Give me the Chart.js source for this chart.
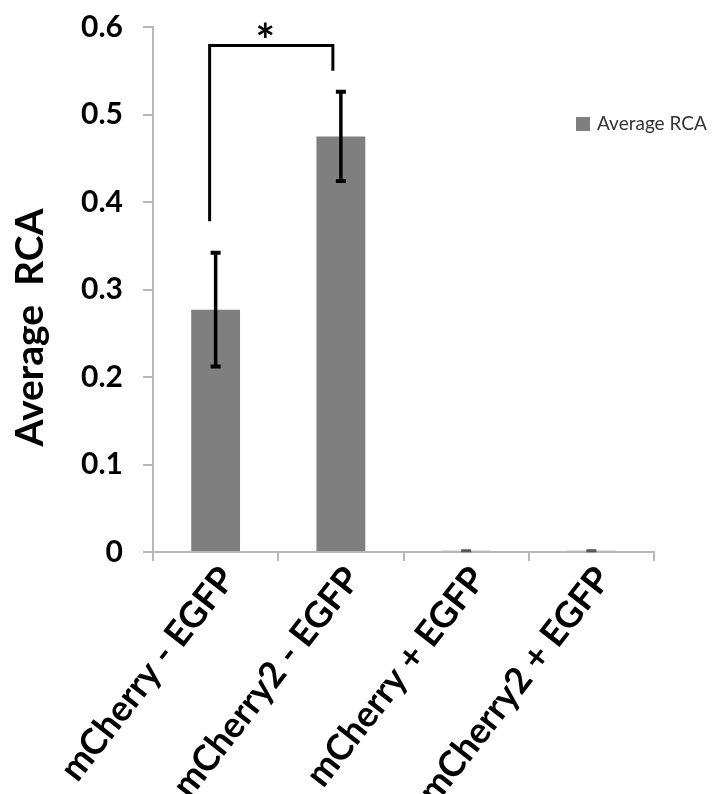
<!DOCTYPE html>
<html>
<head>
<meta charset="utf-8">
<script src="https://cdn.jsdelivr.net/npm/chart.js@4.4.1/dist/chart.umd.min.js"></script>
<style>body{margin:0;background:#fff}</style>
</head>
<body>
<canvas id="rcaGraph" width="712" height="794"></canvas>
<script>
// Datos del gráfico
const categories = ['mCherry - EGFP', 'mCherry2 - EGFP', 'mCherry + EGFP', 'mCherry2 + EGFP'];
const averageRca = [0.277, 0.475, 0.0015, 0.0015];
const rcaError = [0.065, 0.051, 0.0005, 0.0005];
const yTicks = [0, 0.1, 0.2, 0.3, 0.4, 0.5, 0.6];

// Corchete de significancia (categorías y valores)
const sigFrom = 0, sigTo = 1;
const sigTop = 0.579, sigLeftEnd = 0.378, sigRightEnd = 0.55;
const sigLabel = '*';

const barColor = '#7f7f7f';
const fontFamily = 'Lato, "Open Sans", sans-serif';

// Barras de error
const errorBars = {
    id: 'errorBars',
    afterDatasetsDraw(chart) {
        const ctx = chart.ctx;
        const y = chart.scales.y;
        const meta = chart.getDatasetMeta(0);
        ctx.save();
        meta.data.forEach((bar, i) => {
            const x = bar.x;
            const hi = y.getPixelForValue(averageRca[i] + rcaError[i]);
            const lo = y.getPixelForValue(averageRca[i] - rcaError[i]);
            const big = rcaError[i] > 0.01;
            ctx.strokeStyle = big ? '#000' : '#555';
            ctx.lineWidth = big ? 3.5 : 1;
            ctx.beginPath(); ctx.moveTo(x, hi); ctx.lineTo(x, lo); ctx.stroke();
            ctx.lineWidth = big ? 4 : 2;
            ctx.beginPath();
            ctx.moveTo(x - 5, hi); ctx.lineTo(x + 5, hi);
            ctx.moveTo(x - 5, lo); ctx.lineTo(x + 5, lo);
            ctx.stroke();
        });
        ctx.restore();
    }
};

// Corchete con asterisco
const sigBracket = {
    id: 'sigBracket',
    afterDatasetsDraw(chart) {
        const ctx = chart.ctx;
        const {x, y} = chart.scales;
        const x1 = x.getPixelForValue(sigFrom) - 6;
        const x2 = x.getPixelForValue(sigTo) - 8;
        const yt = y.getPixelForValue(sigTop);
        ctx.save();
        ctx.strokeStyle = '#000';
        ctx.lineWidth = 3;
        ctx.beginPath();
        ctx.moveTo(x1, y.getPixelForValue(sigLeftEnd));
        ctx.lineTo(x1, yt);
        ctx.lineTo(x2, yt);
        ctx.lineTo(x2, y.getPixelForValue(sigRightEnd));
        ctx.stroke();
        ctx.fillStyle = '#000';
        ctx.font = 'bold 46px ' + fontFamily;
        ctx.textAlign = 'center';
        ctx.textBaseline = 'alphabetic';
        ctx.fillText(sigLabel, (x1 + x2) / 2 - 6, yt + 12);
        ctx.restore();
    }
};

// Leyenda dentro del área
const legendBox = {
    id: 'legendBox',
    afterDraw(chart) {
        const ctx = chart.ctx;
        const ds = chart.data.datasets[0];
        ctx.save();
        ctx.fillStyle = ds.backgroundColor;
        ctx.fillRect(576, 117, 14, 14);
        ctx.fillStyle = '#333';
        ctx.font = '19px ' + fontFamily;
        ctx.textBaseline = 'middle';
        ctx.fillText(ds.label, 597, 124);
        ctx.restore();
    }
};

new Chart(document.getElementById('rcaGraph').getContext('2d'), {
    type: 'bar',
    data: {
        labels: categories,
        datasets: [{
            label: 'Average RCA',
            data: averageRca,
            backgroundColor: barColor,
            borderWidth: 0,
            categoryPercentage: 1,
            barPercentage: 0.39
        }]
    },
    options: {
        responsive: false,
        animation: false,
        layout: { padding: { top: 0, right: 58, left: 0, bottom: 0 } },
        plugins: { legend: { display: false }, tooltip: { enabled: false } },
        scales: {
            x: {
                afterFit: s => { s.height = 242; },
                border: { color: '#b8b8b8', width: 2 },
                grid: { drawOnChartArea: false, tickLength: 9, color: '#b8b8b8', lineWidth: 2 },
                ticks: {
                    minRotation: 52, maxRotation: 52,
                    labelOffset: 12, padding: 0,
                    color: '#000',
                    font: { family: fontFamily, size: 36, weight: 'bold', lineHeight: 1.0 }
                }
            },
            y: {
                min: 0, max: 0.6,
                afterFit: s => { s.width = 153; },
                afterBuildTicks: s => { s.ticks = yTicks.map(v => ({ value: v })); },
                border: { color: '#b8b8b8', width: 2 },
                grid: { drawOnChartArea: false, tickLength: 10, color: '#b8b8b8', lineWidth: 2 },
                ticks: {
                    padding: 20,
                    color: '#000',
                    font: { family: fontFamily, size: 30, weight: 'bold', lineHeight: 0.47 }
                },
                title: {
                    display: true,
                    text: 'Average  RCA        ',
                    color: '#000',
                    padding: { top: 7, bottom: 0 },
                    font: { family: fontFamily, size: 39, weight: 'bold' }
                }
            }
        }
    },
    plugins: [errorBars, sigBracket, legendBox]
});
</script>
</body>
</html>
